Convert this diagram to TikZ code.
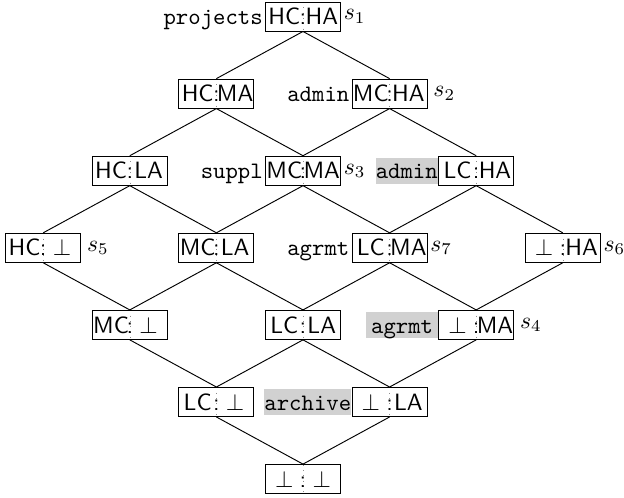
\documentclass[tikz,border=0pt]{standalone}
% two equal halves of a lattice element, split by a colon on a dotted rule
\newcommand\halves[2]{\makebox[15.9pt]{#1}\makebox[0pt]{:}\makebox[15.9pt]{#2}}
\newcommand\bt{$\bot$}
\tikzset{
  lat/.style={draw, line width=0.4pt, inner sep=0pt,
    minimum width=31.8pt, minimum height=12.3pt,
    text height=6.9pt, text depth=0pt, font=\sffamily,
    path picture={\draw[line width=0.25pt, black!45, dotted]
      (path picture bounding box.north) -- (path picture bounding box.south);}},
  link/.style={line width=0.4pt},
  tag/.style={font=\ttfamily, inner xsep=0.8pt, inner ysep=0pt,
    text height=6.9pt, text depth=0pt, minimum height=11pt},
  hl/.style={tag, fill=black!18, inner xsep=0pt},
  idx/.style={inner xsep=1pt, inner ysep=0pt}
}
\begin{document}
\begin{tikzpicture}[x=0.424pt, y=-0.424pt]
\useasboundingbox (0,0) rectangle (624,498);
% lattice elements
\node[lat] (hh) at (303,16.5)   {\halves{HC}{HA}};
\node[lat] (hm) at (216.4,93.6) {\halves{HC}{MA}};
\node[lat] (mh) at (389.6,93.6) {\halves{MC}{HA}};
\node[lat] (hl) at (129.8,170.7) {\halves{HC}{LA}};
\node[lat] (mm) at (303,170.7)   {\halves{MC}{MA}};
\node[lat] (lh) at (476.2,170.7) {\halves{LC}{HA}};
\node[lat] (hb) at (43.2,247.8)  {\halves{HC}{\bt}};
\node[lat] (ml) at (216.4,247.8) {\halves{MC}{LA}};
\node[lat] (lm) at (389.6,247.8) {\halves{LC}{MA}};
\node[lat] (bh) at (562.8,247.8) {\halves{\bt}{HA}};
\node[lat] (mb) at (129.8,324.9) {\halves{MC}{\bt}};
\node[lat] (ll) at (303,324.9)   {\halves{LC}{LA}};
\node[lat] (bm) at (476.2,324.9) {\halves{\bt}{MA}};
\node[lat] (lb) at (216.4,402)   {\halves{LC}{\bt}};
\node[lat] (bl) at (389.6,402)   {\halves{\bt}{LA}};
\node[lat] (bb) at (303,479.1)   {\halves{\bt}{\bt}};
% order relation
\foreach \u/\v in {hh/mh, hh/hm, hm/mm, hm/hl, mh/lh, mh/mm, hl/ml, hl/hb,
    mm/lm, mm/ml, lh/bh, lh/lm, hb/mb, ml/ll, ml/mb, lm/bm, lm/ll, bh/bm,
    mb/lb, ll/bl, ll/lb, bm/bl, lb/bb, bl/bb}
  \draw[link] (\u.south) -- (\v.north);
% annotations
\node[tag, anchor=east] (tproj) at (hh.west) {projects};
\node[idx, anchor=west] (s1) at (hh.east) {$s_1$};
\node[tag, anchor=east] (tadm) at (mh.west) {admin};
\node[idx, anchor=west, xshift=1.3pt] (s2) at (mh.east) {$s_2$};
\node[tag, anchor=east] (tsup) at (mm.west) {suppl};
\node[idx, anchor=west] (s3) at (mm.east) {$s_3$};
\node[hl, anchor=east] (hadm) at (lh.west) {admin};
\node[idx, anchor=west, xshift=1.3pt] (s5) at (hb.east) {$s_5$};
\node[tag, anchor=east] (tagr) at (lm.west) {agrmt};
\node[idx, anchor=west] (s7) at (lm.east) {$s_7$};
\node[idx, anchor=west] (s6) at (bh.east) {$s_6$};
\node[hl, anchor=east, inner xsep=2pt] (hagr) at (bm.west) {agrmt};
\node[idx, anchor=west, xshift=1.3pt] (s4) at (bm.east) {$s_4$};
\node[hl, anchor=east] (harc) at (bl.west) {archive};
\end{tikzpicture}
\end{document}
